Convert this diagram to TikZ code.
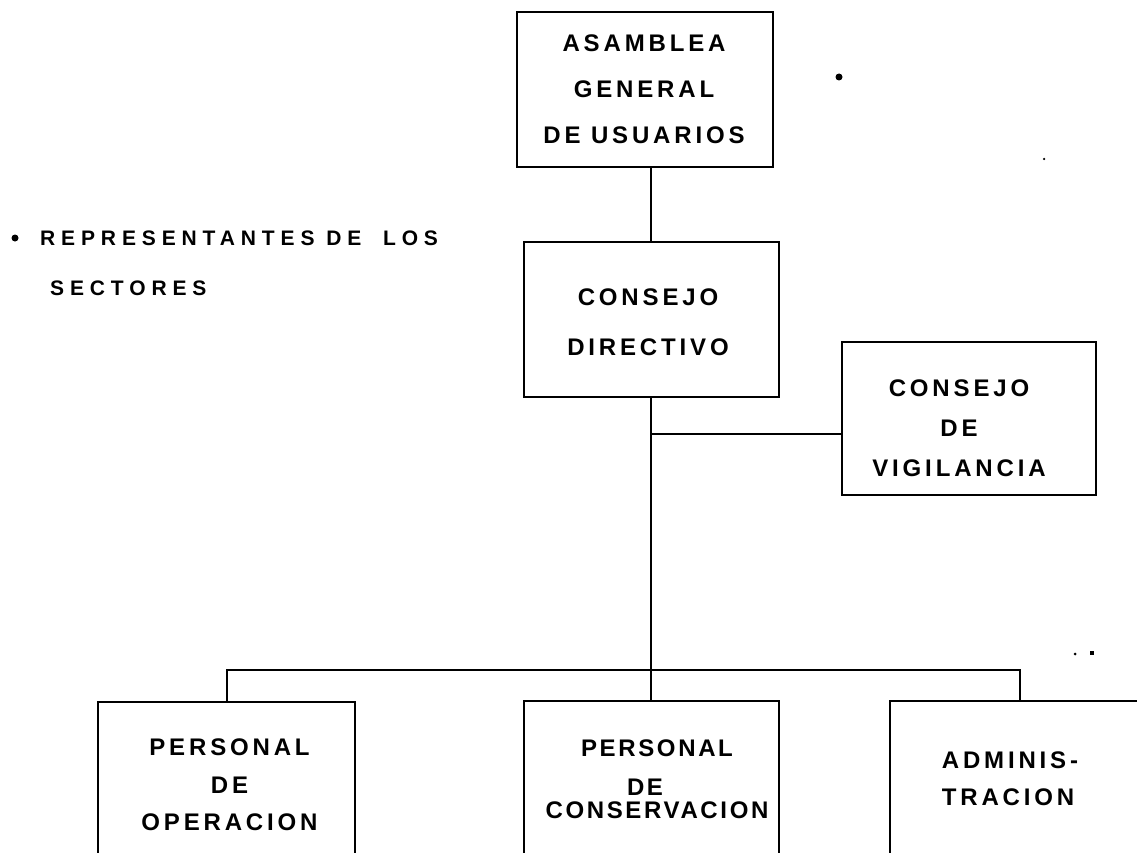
\documentclass[tikz,border=0pt]{standalone}
\usepackage{fontspec}
\setmainfont{Liberation Sans}
\newfontfamily\boxfont[LetterSpace=16]{Liberation Sans Bold}
\newfontfamily\narrowfont[LetterSpace=11]{Liberation Sans Bold}
\newfontfamily\notefont[LetterSpace=28]{Liberation Sans Bold}
\begin{document}
\begin{tikzpicture}[x=1pt,y=-1pt,
  box/.style={draw, line width=2pt, inner sep=0pt},
  wire/.style={line width=2pt},
  txt/.style={align=center, inner sep=0pt, font=\boxfont\fontsize{24}{46}\selectfont},
  notetxt/.style={anchor=west, inner sep=0pt, font=\notefont\fontsize{21}{25}\selectfont},
  dotm/.style={circle, fill, inner sep=0pt, minimum size=#1},
  dotm/.default=6pt]
\useasboundingbox (0,0) rectangle (1137,853);
\clip (0,0) rectangle (1137,853);

% boxes
\node[box, minimum width=256pt, minimum height=155pt,
  label={[txt, name=asamT, xshift=-1pt]center:{ASAMBLEA\\GENERAL\\DE USUARIOS}}]
  (asam) at (645,89.5) {};
\node[box, minimum width=255pt, minimum height=155pt,
  label={[txt, name=dirT, xshift=-3pt, yshift=-2.5pt, font=\boxfont\fontsize{24}{50}\selectfont]center:{CONSEJO\\DIRECTIVO}}]
  (dir) at (651,319.5) {};
\node[box, minimum width=254pt, minimum height=153pt,
  label={[txt, name=vigT, xshift=-10pt, yshift=-9.5pt, font=\boxfont\fontsize{24}{40}\selectfont]center:{CONSEJO\\DE\\VIGILANCIA}}]
  (vig) at (969,418.5) {};
\node[box, minimum width=257pt, minimum height=166pt,
  label={[txt, name=operT, xshift=3pt, font=\boxfont\fontsize{24}{37.5}\selectfont]center:{PERSONAL\\DE\\OPERACION}}]
  (oper) at (226.5,785) {};
\node[box, minimum width=255pt, minimum height=166pt,
  label={[txt, name=consT, xshift=6pt, yshift=5pt, font=\narrowfont\fontsize{24}{39}\selectfont]center:{PERSONAL\\\hspace*{-24pt}DE\\[-16pt]CONSERVACION}}]
  (cons) at (651,784) {};
\node[box, minimum width=260pt, minimum height=166pt,
  label={[txt, name=admT, align=left, xshift=-10pt, yshift=5.5pt, font=\boxfont\fontsize{24}{37}\selectfont]center:{ADMINIS-\\TRACION}}]
  (adm) at (1020,784) {};

% connectors
\coordinate (bus) at (651,670);
\draw[wire] (dir.north) -- (dir.north |- asam.south);
\draw[wire] (dir.south) -- (cons.north);
\draw[wire] ([yshift=-15.5pt]vig.west) -- ([yshift=-15.5pt]vig.west -| dir.south);
\draw[wire] (oper.north) |- (bus) -| (adm.north);

% footnote
\node[dotm=7pt] (bullet) at (15,238) {};
\node[notetxt] (note1) at (40,238) {REPRESENTANTES DE\hspace{10pt} LOS};
\node[notetxt] (note2) at (50,288) {SECTORES};

% marks
\node[dotm=7pt] (mark1) at (839,77) {};
\node[dotm=2.5pt] (mark2) at (1044,159) {};
\node[dotm=3pt] (mark3) at (1075,654) {};
\node[fill, inner sep=0pt, minimum size=4.5pt] (mark4) at (1092,653) {};
\end{tikzpicture}
\end{document}
